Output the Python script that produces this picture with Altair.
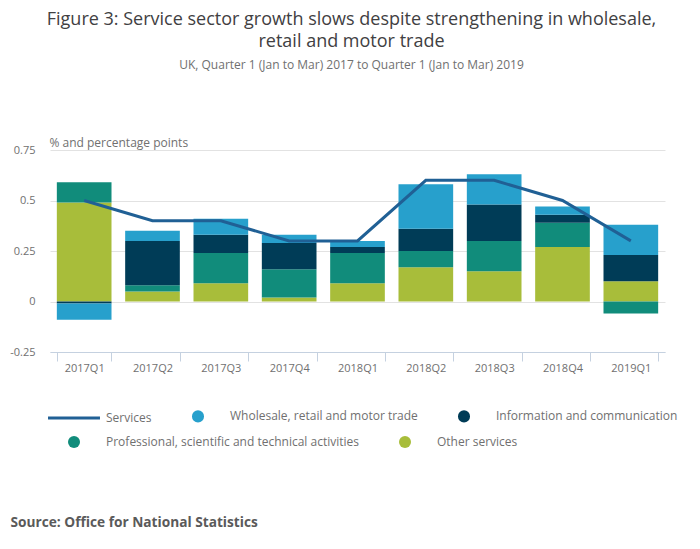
import altair as alt
import pandas as pd

quarters = ["2017Q1", "2017Q2", "2017Q3", "2017Q4", "2018Q1",
            "2018Q2", "2018Q3", "2018Q4", "2019Q1"]
services = [0.5, 0.4, 0.4, 0.3, 0.3, 0.6, 0.6, 0.5, 0.3]
wholesale = [-0.08, 0.05, 0.08, 0.04, 0.03, 0.22, 0.15, 0.04, 0.15]
information = [-0.01, 0.22, 0.09, 0.13, 0.03, 0.11, 0.18, 0.04, 0.13]
professional = [0.10, 0.03, 0.15, 0.14, 0.15, 0.08, 0.15, 0.12, -0.06]
other = [0.49, 0.05, 0.09, 0.02, 0.09, 0.17, 0.15, 0.27, 0.10]

# legend row 1 (line + first two bar series) and row 2 (remaining bar series)
row1_names = ["Services", "Wholesale, retail and motor trade", "Information and communication"]
row1_colors = ["#206095", "#27a0cc", "#003c57"]
bar_names = ["Wholesale, retail and motor trade", "Information and communication",
             "Professional, scientific and technical activities", "Other services"]
bar_colors = ["#27a0cc", "#003c57", "#118c7b", "#a8bd3a"]

bar_series = {
    "Other services": other,
    "Professional, scientific and technical activities": professional,
    "Information and communication": information,
    "Wholesale, retail and motor trade": wholesale,
}
rows = []
for rank, (name, vals) in enumerate(bar_series.items()):
    for q, v in zip(quarters, vals):
        rows.append({"quarter": q, "series": name, "value": v, "rank": rank})
bar_df = pd.DataFrame(rows)
line_df = pd.DataFrame({"quarter": quarters, "series": "Services", "value": services})

FONT = "Open Sans"
GREY = "#707070"


def ring(r):
    return f"M{r},0A{r},{r},0,1,1,{-r},0A{r},{r},0,1,1,{r},0Z"


# a solid disc drawn as concentric stroked rings (stroke legends leave fill empty)
DISC = ring(0.1667) + ring(0.5) + ring(0.8333)
LINE_SYMBOL = "M-4.33,0H4.33"

x_enc = alt.X(
    "quarter:N", sort=quarters,
    scale=alt.Scale(paddingInner=0.2, paddingOuter=0.1),
    axis=alt.Axis(
        title="Source: Office for National Statistics",
        titleFont=FONT, titleFontSize=13.7, titleFontWeight="bold", titleColor="#5a5a5a",
        titleAnchor="start", titleAlign="left", titleBaseline="alphabetic",
        titleX=-40, titleY=174,
        labelAngle=0, labelFont=FONT, labelFontSize=11, labelColor=GREY,
        labelPadding=1, domainColor="#c5d1e0", tickColor="#c5d1e0",
        tickBand="extent", tickSize=9, grid=False,
    ),
)
y_enc = alt.Y(
    "value:Q",
    scale=alt.Scale(domain=[-0.25, 0.75], nice=False, zero=False),
    axis=alt.Axis(
        values=[-0.25, 0, 0.25, 0.5, 0.75],
        labelExpr="'' + datum.value",
        title="% and percentage points",
        titleAngle=0, titleAnchor="start", titleAlign="left",
        titleBaseline="alphabetic", titleX=-1, titleY=-4,
        titleFont=FONT, titleFontSize=12, titleFontWeight="normal", titleColor=GREY,
        labelFont=FONT, labelFontSize=11, labelColor=GREY, labelPadding=15,
        domain=False, ticks=False, gridColor="#e2e2e2",
    ),
)

legend_common = dict(
    title=None, orient="none", legendX=18, direction="horizontal",
    symbolSize=144, labelOffset=26,
    labelFont=FONT, labelFontSize=12, labelColor=GREY, labelLimit=400,
    padding=0,
)

bars = alt.Chart(bar_df).mark_bar().encode(
    x=x_enc, y=y_enc,
    fill=alt.Fill(
        "series:N",
        scale=alt.Scale(domain=bar_names, range=bar_colors),
        legend=alt.Legend(
            legendY=286, values=bar_names[2:], columnPadding=40,
            symbolType="circle", symbolStrokeWidth=0, symbolOpacity=1,
            **legend_common,
        ),
    ),
    order=alt.Order("rank:Q", sort="ascending"),
)
line = alt.Chart(line_df).mark_line(strokeWidth=3).encode(
    x=alt.X("quarter:N", sort=quarters),
    y="value:Q",
    stroke=alt.Stroke(
        "series:N",
        scale=alt.Scale(domain=row1_names, range=row1_colors),
        legend=alt.Legend(
            legendY=260, columnPadding=36,
            symbolType=alt.expr(
                f"datum.value === 'Services' ? '{LINE_SYMBOL}' : '{DISC}'"),
            symbolStrokeWidth=alt.expr("datum.value === 'Services' ? 3 : 2.1"),
            symbolOpacity=1,
            **legend_common,
        ),
    ),
)

chart = alt.layer(bars, line).resolve_scale(fill="independent", stroke="independent").properties(
    width=615, height=202,
    autosize=alt.AutoSizeParams(type="none"),
    padding={"left": 42, "top": 142, "right": 27, "bottom": 189},
    background="white",
    title=alt.TitleParams(
        text=["Figure 3: Service sector growth slows despite strengthening in wholesale,",
              "retail and motor trade"],
        subtitle="UK, Quarter 1 (Jan to Mar) 2017 to Quarter 1 (Jan to Mar) 2019",
        font=FONT, fontSize=18, fontWeight="normal", color="#414042",
        subtitleFont=FONT, subtitleFontSize=12, subtitleColor=GREY,
        anchor="middle", frame="group", dx=-6, offset=65,
        lineHeight=22, subtitlePadding=9,
    ),
).configure_view(stroke=None)

chart.save("out.html", embed_options={"renderer": "svg", "actions": False})
